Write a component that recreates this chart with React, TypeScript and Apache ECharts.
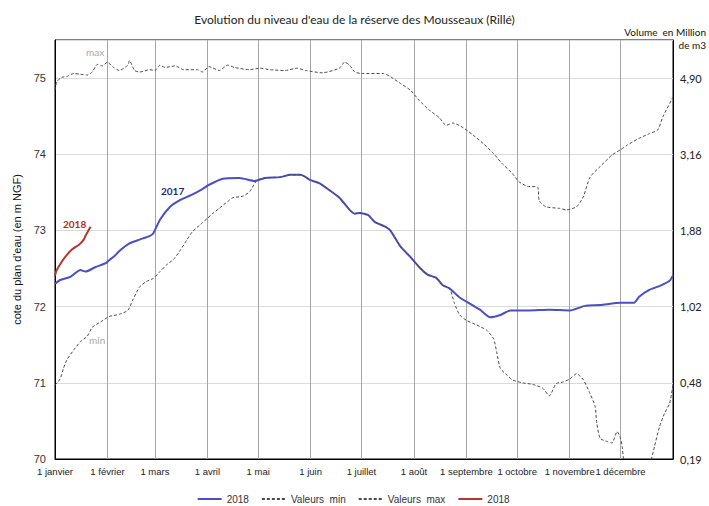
import React, { useEffect, useRef } from 'react';
import * as echarts from 'echarts';

const chartTitle = "Evolution du niveau d'eau de la réserve des Mousseaux (Rillé)";
const monthStarts = [0, 31, 59, 90, 120, 151, 181, 212, 243, 273, 304, 334];
const monthLabels = ['1 janvier', '1 février', '1 mars', '1 avril', '1 mai', '1 juin', '1 juillet', '1 août', '1 septembre', '1 octobre', '1 novembre', '1 décembre'];
const levelTicks = [70, 71, 72, 73, 74, 75];
const volumeLabels = ['0,19', '0,48', '1,02', '1,88', '3,16', '4,90'];

// [day of year, level in m NGF]
const level2017 = [
  [0, 72.30], [3, 72.35], [9, 72.39], [12, 72.44], [15, 72.48], [18, 72.46], [24, 72.52], [30, 72.57],
  [32, 72.61], [35, 72.66], [38, 72.73], [44, 72.83], [50, 72.88], [56, 72.93], [58, 72.96], [62, 73.14],
  [68, 73.31], [74, 73.40], [80, 73.46], [86, 73.53], [91, 73.60], [99, 73.68], [109, 73.69], [118, 73.65],
  [124, 73.69], [133, 73.70], [139, 73.73], [145, 73.73], [151, 73.66], [156, 73.62], [162, 73.53], [168, 73.43],
  [174, 73.27], [177, 73.22], [180, 73.23], [185, 73.20], [189, 73.11], [195, 73.05], [198, 73.00], [204, 72.79],
  [210, 72.65], [215, 72.52], [220, 72.42], [225, 72.38], [229, 72.28], [233, 72.24], [239, 72.12], [245, 72.04],
  [251, 71.96], [257, 71.86], [263, 71.89], [269, 71.95], [280, 71.95], [292, 71.96], [304, 71.95], [313, 72.01],
  [322, 72.02], [334, 72.05], [342, 72.05], [345, 72.13], [351, 72.22], [357, 72.27], [363, 72.34], [365, 72.41],
];

const levelMin = [
  [0, 70.97], [3, 71.05], [5, 71.19], [7, 71.30], [11, 71.43], [15, 71.54], [19, 71.61], [22, 71.73],
  [27, 71.80], [32, 71.87], [38, 71.90], [43, 71.95], [46, 72.09], [50, 72.26], [54, 72.33], [58, 72.37],
  [62, 72.46], [66, 72.55], [70, 72.62], [74, 72.74], [78, 72.88], [81, 72.98], [86, 73.08], [90, 73.16],
  [93, 73.22], [97, 73.29], [102, 73.38], [105, 73.43], [111, 73.45], [115, 73.51], [119, 73.65],
  [124, 73.69], [133, 73.70], [139, 73.73], [145, 73.73], [151, 73.66], [156, 73.62], [162, 73.53], [168, 73.43],
  [174, 73.27], [177, 73.22], [180, 73.23], [185, 73.20], [189, 73.11], [195, 73.05], [198, 73.00], [204, 72.79],
  [210, 72.65], [215, 72.52], [220, 72.42], [225, 72.38], [229, 72.28], [233, 72.24],
  [236, 72.04], [239, 71.89], [243, 71.82], [249, 71.76], [255, 71.69], [259, 71.58], [261, 71.39], [263, 71.19],
  [267, 71.10], [270, 71.04], [276, 71.00], [282, 70.98], [288, 70.93], [292, 70.83], [296, 70.99], [300, 71.01],
  [304, 71.05], [308, 71.12], [312, 71.04], [316, 70.86], [319, 70.69], [320, 70.47], [322, 70.27], [326, 70.23],
  [329, 70.21], [332, 70.36], [334, 70.27], [335, 70.16], [336, 69.98], [340, 69.80], [348, 69.80], [352, 69.98],
  [354, 70.16], [357, 70.42], [360, 70.60], [363, 70.73], [365, 70.97],
];

const levelMax = [
  [0, 74.84], [1, 74.95], [4, 75.01], [7, 75.02], [11, 75.06], [15, 75.05], [19, 75.04], [22, 75.08],
  [25, 75.18], [28, 75.16], [31, 75.21], [34, 75.15], [38, 75.10], [43, 75.17], [44, 75.23], [47, 75.10],
  [50, 75.08], [56, 75.11], [59, 75.10], [62, 75.17], [65, 75.14], [71, 75.16], [76, 75.11], [84, 75.11],
  [87, 75.08], [91, 75.15], [97, 75.10], [102, 75.17], [106, 75.14], [115, 75.11], [121, 75.13], [127, 75.11],
  [136, 75.10], [143, 75.13], [148, 75.10], [158, 75.07], [168, 75.13], [171, 75.21], [174, 75.17], [177, 75.08],
  [181, 75.06], [194, 75.06], [198, 75.02], [204, 74.93], [210, 74.84], [215, 74.71], [221, 74.58], [227, 74.48],
  [231, 74.38], [235, 74.41], [241, 74.35], [247, 74.25], [253, 74.14], [259, 74.01], [264, 73.88], [270, 73.75],
  [274, 73.64], [279, 73.58], [285, 73.57], [286, 73.39], [290, 73.31], [298, 73.29], [302, 73.27], [308, 73.31],
  [312, 73.44], [316, 73.70], [322, 73.84], [329, 73.99], [334, 74.06], [338, 74.12], [341, 74.16], [345, 74.21],
  [351, 74.27], [356, 74.32], [359, 74.49], [365, 74.75],
];

const level2018 = [
  [0, 72.41], [1, 72.48], [4, 72.59], [7, 72.68], [10, 72.75], [14, 72.81], [17, 72.88], [18, 72.93], [21, 73.05],
];

const App: React.FC = () => {
  const ref = useRef<HTMLDivElement>(null);

  useEffect(() => {
    if (!ref.current) return;
    const chart = echarts.init(ref.current, undefined, { renderer: 'svg' });
    const dashed = { color: '#4a4a4a', width: 1, type: [3, 2] as any };
    chart.setOption({
      animation: false,
      backgroundColor: '#ffffff',
      title: {
        text: chartTitle,
        left: 'center',
        top: 8,
        textStyle: { fontFamily: 'Lato', fontSize: 12, fontWeight: 'normal', color: '#222' },
      },
      grid: { left: 55, right: 36, top: 40, bottom: 47, show: true, borderColor: '#000', borderWidth: 1, backgroundColor: 'transparent' },
      legend: {
        bottom: 2,
        left: 'center',
        padding: [0, 5],
        itemWidth: 24,
        itemHeight: 10,
        itemGap: 12,
        itemStyle: { opacity: 0 },
        textStyle: { fontFamily: 'Liberation Sans', fontSize: 10, color: '#333' },
        data: ['2018', 'Valeurs  min', 'Valeurs  max', '2018 '],
      },
      xAxis: {
        type: 'value',
        min: 0,
        max: 365,
        axisLine: { show: true, lineStyle: { color: '#000', width: 1 } },
        axisTick: { show: false, customValues: monthStarts },
        splitLine: { show: true, lineStyle: { color: '#a6a6a6', width: 1 } },
        axisLabel: {
          customValues: monthStarts,
          hideOverlap: false,
          formatter: (v: number) => {
            const i = monthStarts.indexOf(Math.round(v));
            return i >= 0 ? monthLabels[i] : '';
          },
          fontFamily: 'Liberation Sans',
          fontSize: 9.5,
          color: '#222',
          margin: 7,
        },
      },
      yAxis: [
        {
          type: 'value',
          min: 70,
          max: 75.5,
          interval: 1,
          name: "cote du plan d'eau (en m NGF)",
          nameLocation: 'middle',
          nameGap: 33,
          nameTextStyle: { fontFamily: 'Liberation Sans', fontSize: 11, color: '#111' },
          axisLine: { show: true, lineStyle: { color: '#000' } },
          axisTick: { show: false },
          splitLine: { show: true, lineStyle: { color: '#dadada', width: 1 } },
          axisLabel: {
            showMaxLabel: false,
            formatter: (v: number) => (levelTicks.indexOf(v) >= 0 ? String(v) : ''),
            fontFamily: 'Liberation Sans',
            fontSize: 11,
            color: '#333',
            margin: 9,
          },
        },
        {
          type: 'value',
          min: 70,
          max: 75.5,
          interval: 1,
          position: 'right',
          axisLine: { show: true, lineStyle: { color: '#000' } },
          axisTick: { show: false },
          splitLine: { show: false },
          axisLabel: {
            showMaxLabel: false,
            formatter: (v: number) => {
              const i = levelTicks.indexOf(v);
              return i >= 0 ? volumeLabels[i] : '';
            },
            fontFamily: 'Lato',
            fontSize: 11,
            color: '#222',
            margin: 7,
          },
        },
      ],
      graphic: [
        { type: 'text', right: 3, top: 27, style: { text: 'Volume  en Million', fontFamily: 'Lato', fontSize: 10, fill: '#111', textAlign: 'right' } },
        { type: 'text', right: 3, top: 40, style: { text: 'de m3', fontFamily: 'Lato', fontSize: 10, fill: '#111', textAlign: 'right' } },
        { type: 'text', left: 86, top: 47, style: { text: 'max', fontFamily: 'Lato', fontSize: 10, fill: '#a8a8a8' } },
        { type: 'text', left: 89, top: 335, style: { text: 'min', fontFamily: 'Lato', fontSize: 10, fill: '#a8a8a8' } },
        { type: 'text', left: 161, top: 186, style: { text: '2017', fontFamily: 'Lato', fontSize: 10, fontWeight: 'bold', fill: '#1f2a7a' } },
        { type: 'text', left: 63, top: 219, style: { text: '2018', fontFamily: 'Lato', fontSize: 10, fontWeight: 'bold', fill: '#b22a22' } },
      ],
      series: [
        {
          name: '2018',
          type: 'line',
          data: level2017,
          showSymbol: false,
          symbol: 'none',
          smooth: 0.2,
          lineStyle: { color: '#4a4fc2', width: 2 },
          itemStyle: { color: '#4a4fc2' },
        },
        {
          name: 'Valeurs  min',
          type: 'line',
          data: levelMin,
          showSymbol: false,
          symbol: 'none',
          smooth: 0.2,
          lineStyle: dashed,
          itemStyle: { color: '#4a4a4a' },
        },
        {
          name: 'Valeurs  max',
          type: 'line',
          data: levelMax,
          showSymbol: false,
          symbol: 'none',
          smooth: 0.2,
          lineStyle: dashed,
          itemStyle: { color: '#4a4a4a' },
        },
        {
          name: '2018 ',
          type: 'line',
          data: level2018,
          showSymbol: false,
          symbol: 'none',
          smooth: 0.2,
          lineStyle: { color: '#b0392f', width: 2 },
          itemStyle: { color: '#b0392f' },
        },
      ],
    });
    return () => chart.dispose();
  }, []);

  return <div ref={ref} style={{ position: 'fixed', left: 0, top: 0, width: 709, height: 506 }} />;
};

export default App;
